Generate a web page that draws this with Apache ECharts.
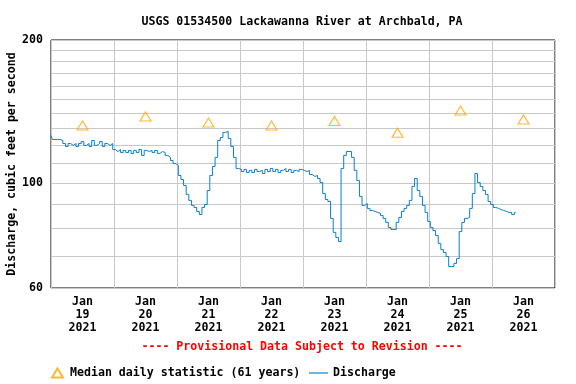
<!DOCTYPE html>
<html>
<head>
<meta charset="utf-8">
<script src="https://cdn.jsdelivr.net/npm/echarts@6/dist/echarts.min.js"></script>
<style>html,body{margin:0;padding:0;background:#fff}#c{width:576px;height:384px}</style>
</head>
<body>
<div id="c"></div>
<script>
// Hourly discharge (cfs) starting Jan 19 2021 00:00
const stepHours = 1;
const discharge = [
  125.8,123.4,123.4,123.4,122.8,121.0,119.3,121.0,119.9,121.0,119.3,121.0,122.2,119.9,121.0,119.3,122.8,119.9,121.0,122.2,119.3,121.0,119.9,121.0,
  117.5,116.4,117.5,115.8,117.0,115.8,117.0,115.3,117.0,115.8,117.5,114.2,117.0,116.4,117.0,115.8,117.0,115.3,116.4,115.8,114.2,113.1,111.4,109.8,
  108.8,103.6,101.6,98.7,94.5,91.8,89.6,88.7,87.0,85.7,88.7,90.0,96.3,103.6,108.2,113.1,122.8,124.6,127.7,128.3,124.0,119.3,113.1,107.2,
  106.7,105.6,106.7,105.1,106.2,105.1,106.7,105.6,106.2,104.6,106.7,105.6,107.2,105.6,106.7,105.1,106.2,107.2,105.6,106.7,105.1,106.2,105.6,106.7,
  106.2,105.6,106.2,104.1,103.1,103.6,102.1,100.1,94.9,92.2,91.3,84.1,78.6,76.7,75.2,107.2,114.2,116.4,116.4,113.1,106.2,101.1,93.6,89.6,
  90.4,88.3,87.4,87.0,86.6,86.2,85.3,84.1,82.5,80.5,79.7,79.7,82.5,84.5,87.0,88.3,89.6,91.8,98.2,102.1,96.3,93.6,89.6,86.6,
  82.9,80.5,79.3,77.4,74.5,72.3,71.3,69.9,66.6,66.6,67.6,69.2,78.9,82.5,84.1,84.5,88.3,94.9,104.6,100.1,98.2,96.3,94.5,91.3,
  90.0,88.7,88.3,87.8,87.4,87.0,86.6,86.6,85.7,86.6
];
// Median daily statistic, one per day at noon
const medianHours = [12, 36, 60, 84, 108, 132, 156, 180];
const medianValues = [132, 138, 134, 132, 135, 127.5, 142, 136];
// Axis labels
const labelHours = [12, 36, 60, 84, 108, 132, 156, 180];
const months = ['Jan','Jan','Jan','Jan','Jan','Jan','Jan','Jan'];
const days = ['19','20','21','22','23','24','25','26'];
const years = ['2021','2021','2021','2021','2021','2021','2021','2021'];
const yGridValues = [60,70,80,90,100,110,120,130,140,150,160,170,180,190,200];
const yLabelValues = [60, 100, 200];

const FONT = 'DejaVu Sans Mono';
const chart = echarts.init(document.getElementById('c'), null, {renderer: 'canvas'});
chart.setOption({
  animation: false,
  backgroundColor: '#fff',
  textStyle: {fontFamily: FONT},
  title: [
    {text: 'USGS 01534500 Lackawanna River at Archbald, PA', left: 297, top: 11, textAlign: 'center',
     textStyle: {fontFamily: FONT, fontSize: 11.6, fontWeight: 'bold', color: '#000'}},
    {text: '---- Provisional Data Subject to Revision ----', left: 297, top: 336, textAlign: 'center',
     textStyle: {fontFamily: FONT, fontSize: 11.6, fontWeight: 'bold', color: '#ff0000'}}
  ],
  grid: {left: 51, right: 21, top: 40, bottom: 96, show: true, borderColor: '#000', borderWidth: 1,
         containLabel: false, outerBoundsMode: 'none'},
  legend: [
    {left: 51, top: 367, padding: 0, itemWidth: 11, itemHeight: 9, data: ['Median daily statistic (61 years)'],
     textStyle: {fontFamily: FONT, fontSize: 11.6, fontWeight: 'bold', color: '#000', padding: [0,0,0,2]}},
    {left: 309, top: 367, padding: 0, itemWidth: 19, itemHeight: 1.2,
     data: [{name: 'Discharge', icon: 'rect', itemStyle: {color: '#0a7fd2'}}],
     textStyle: {fontFamily: FONT, fontSize: 11.6, fontWeight: 'bold', color: '#000'}}
  ],
  xAxis: {
    type: 'value', min: 0, max: 192, interval: 24,
    axisLine: {show: false}, axisTick: {show: false},
    splitLine: {show: true, lineStyle: {color: '#c8c8c8', width: 1}},
    axisLabel: {
      customValues: labelHours, margin: 7, lineHeight: 13,
      fontFamily: FONT, fontSize: 11.6, fontWeight: 'bold', color: '#000',
      formatter: function (v) {
        const i = labelHours.indexOf(v);
        return i < 0 ? '' : months[i] + '\n' + days[i] + '\n' + years[i];
      }
    }
  },
  yAxis: {
    type: 'log', logBase: 10, min: 60, max: 200,
    name: 'Discharge, cubic feet per second', nameLocation: 'middle', nameRotate: 90, nameGap: 33,
    nameMoveOverlap: false,
    nameTextStyle: {fontFamily: FONT, fontSize: 11.6, fontWeight: 'bold', color: '#000'},
    axisLine: {show: false},
    axisTick: {show: false, customValues: yGridValues},
    splitLine: {show: true, lineStyle: {color: '#c8c8c8', width: 1}},
    axisLabel: {customValues: yLabelValues, margin: 8, fontFamily: FONT, fontSize: 11.6, fontWeight: 'bold', color: '#000',
      formatter: function (v) { return String(Math.round(v)); }}
  },
  series: [
    {name: 'Discharge', type: 'line', symbol: 'none', showSymbol: false, step: 'middle',
     lineStyle: {color: '#0a7fd2', width: 1}, itemStyle: {color: '#0a7fd2'},
     data: discharge.map((v, i) => [i * stepHours, v]), z: 3},
    {name: 'Median daily statistic (61 years)', type: 'scatter', symbol: 'triangle', symbolSize: [11, 9],
     itemStyle: {color: 'rgba(255,255,255,0)', borderColor: '#ffa500', borderWidth: 1.1},
     data: medianHours.map((h, i) => [h, medianValues[i]]), z: 4}
  ]
});
</script>
</body>
</html>
